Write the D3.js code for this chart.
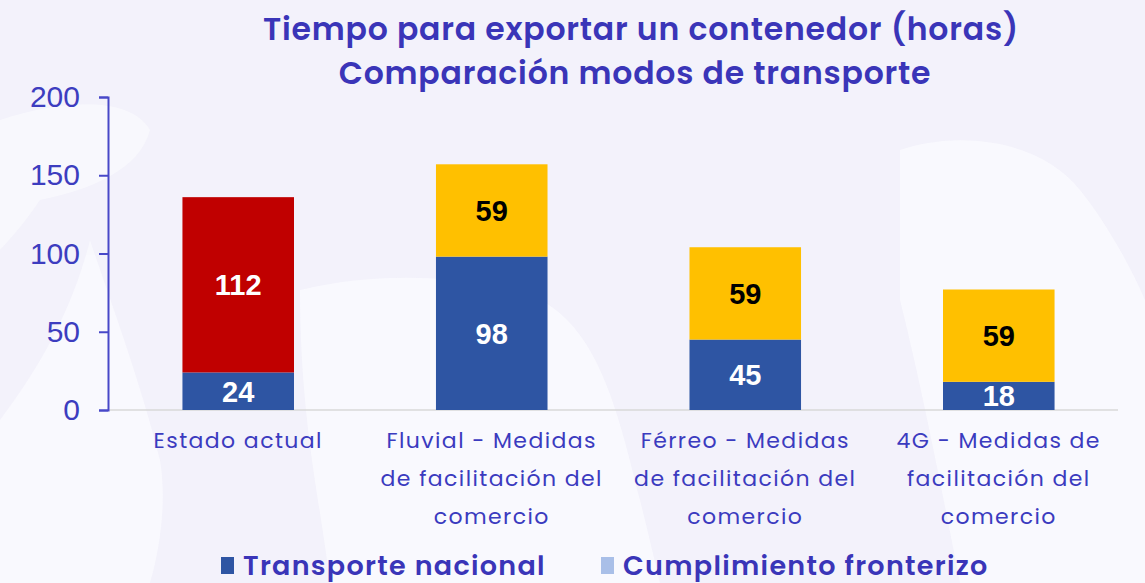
<!DOCTYPE html>
<html>
<head>
<meta charset="utf-8">
<script src="https://cdn.jsdelivr.net/npm/d3@7"></script>
<style>
  body { margin: 0; background: #f4f3fb; }
  svg { display: block; }
</style>
</head>
<body>
<div id="chart"></div>
<script>
// data
var categories = ["Estado actual", "Fluvial - Medidas de facilitación del comercio",
  "Férreo - Medidas de facilitación del comercio", "4G - Medidas de facilitación del comercio"];
var tickLines = [
  ["Estado actual"],
  ["Fluvial - Medidas", "de facilitación del", "comercio"],
  ["Férreo - Medidas", "de facilitación del", "comercio"],
  ["4G - Medidas de", "facilitación del", "comercio"]
];
var transporteNacional = [24, 98, 45, 18];
var cumplimientoFronterizo = [112, 59, 59, 59];
var fronterizoColors = ["#c00000", "#ffc000", "#ffc000", "#ffc000"];
var fronterizoLabelColors = ["#ffffff", "#000000", "#000000", "#000000"];
var yTicks = [0, 50, 100, 150, 200];
var seriesNames = ["Transporte nacional", "Cumplimiento fronterizo"];
var seriesColors = ["#2e55a3", "#a9bfe8"];

var W = 1145, H = 583;
var margin = {top: 97, right: 23, bottom: 173, left: 108};
var width = W - margin.left - margin.right,
    height = H - margin.top - margin.bottom;

var svg = d3.select("#chart").append("svg")
    .attr("width", W)
    .attr("height", H);

// faint background shapes
svg.append("rect").attr("width", W).attr("height", H).attr("fill", "#f3f2fb");
var bg = svg.append("g").attr("fill", "#f9f9fe").attr("opacity", 0.9);
bg.append("path").attr("d", "M0,120 C60,100 130,95 150,130 C140,170 90,190 40,200 C20,230 0,250 0,250 Z");
bg.append("path").attr("d", "M90,240 C110,300 140,380 160,460 C170,520 150,583 150,583 L0,583 L0,420 C30,380 70,320 90,240 Z");
bg.append("path").attr("d", "M300,290 C380,270 480,275 540,300 C600,330 620,420 640,500 C650,540 660,583 660,583 L330,583 C320,500 300,420 300,290 Z");
bg.append("path").attr("d", "M900,150 C960,130 1040,140 1080,190 C1120,240 1145,300 1145,300 L1145,583 L960,583 C940,480 920,380 900,300 Z");

var g = svg.append("g")
    .attr("transform", "translate(" + margin.left + "," + margin.top + ")");

// title
var title = svg.append("text")
    .attr("text-anchor", "middle")
    .attr("font-family", "Poppins, Inter, sans-serif")
    .attr("font-weight", 600)
    .attr("font-size", 31.5)
    .attr("letter-spacing", 0.8)
    .attr("fill", "#3a35b8");
title.append("tspan").attr("x", 641).attr("y", 40).text("Tiempo para exportar un contenedor (horas)");
title.append("tspan").attr("x", 635).attr("y", 84).text("Comparación modos de transporte");

var x = d3.scaleBand()
    .domain(categories)
    .range([6, width + 1])
    .paddingInner(0.56)
    .paddingOuter(0.27);

var y = d3.scaleLinear()
    .domain([0, 200])
    .range([height, 0]);

// baseline
g.append("line")
    .attr("x1", 0).attr("x2", width - 4)
    .attr("y1", y(0)).attr("y2", y(0))
    .attr("stroke", "#d9d9d9")
    .attr("stroke-width", 1.5);

// y axis
var yAxis = g.append("g")
    .call(d3.axisLeft(y).tickValues(yTicks).tickSize(9).tickPadding(19));
yAxis.select(".domain").attr("stroke", "#4848c8").attr("stroke-width", 2);
yAxis.selectAll(".tick line").attr("stroke", "#4848c8").attr("stroke-width", 2);
yAxis.selectAll(".tick text")
    .attr("fill", "#3d3dbf")
    .attr("font-family", "Liberation Sans, Arial, sans-serif")
    .attr("font-size", 30);

// stacked bars
var rows = categories.map(function(c, i) {
  return {cat: c, i: i, a: transporteNacional[i], b: cumplimientoFronterizo[i]};
});

var bars = g.selectAll(".bar").data(rows).enter().append("g").attr("class", "bar");

bars.append("rect")
    .attr("x", function(d) { return x(d.cat); })
    .attr("width", x.bandwidth())
    .attr("y", function(d) { return y(d.a); })
    .attr("height", function(d) { return y(0) - y(d.a); })
    .attr("fill", seriesColors[0]);

bars.append("rect")
    .attr("x", function(d) { return x(d.cat); })
    .attr("width", x.bandwidth())
    .attr("y", function(d) { return y(d.a + d.b); })
    .attr("height", function(d) { return y(d.a) - y(d.a + d.b); })
    .attr("fill", function(d) { return fronterizoColors[d.i]; });

var labelFont = "Liberation Sans, Arial, sans-serif";

bars.append("text")
    .attr("x", function(d) { return x(d.cat) + x.bandwidth() / 2; })
    .attr("y", function(d) { return (y(0) + y(d.a)) / 2; })
    .attr("dy", "0.36em")
    .attr("text-anchor", "middle")
    .attr("font-family", labelFont)
    .attr("font-weight", "bold")
    .attr("font-size", 29)
    .attr("fill", "#ffffff")
    .text(function(d) { return d.a; });

bars.append("text")
    .attr("x", function(d) { return x(d.cat) + x.bandwidth() / 2; })
    .attr("y", function(d) { return (y(d.a) + y(d.a + d.b)) / 2; })
    .attr("dy", "0.36em")
    .attr("text-anchor", "middle")
    .attr("font-family", labelFont)
    .attr("font-weight", "bold")
    .attr("font-size", 29)
    .attr("fill", function(d) { return fronterizoLabelColors[d.i]; })
    .text(function(d) { return d.b; });

// category labels
var catLabels = g.selectAll(".cat").data(rows).enter().append("text")
    .attr("class", "cat")
    .attr("text-anchor", "middle")
    .attr("font-family", "Poppins, Inter, sans-serif")
    .attr("font-size", 22)
    .attr("letter-spacing", 1.4)
    .attr("fill", "#3b3bbf");
catLabels.each(function(d) {
  var t = d3.select(this);
  tickLines[d.i].forEach(function(line, k) {
    t.append("tspan")
      .attr("x", x(d.cat) + x.bandwidth() / 2)
      .attr("y", y(0) + 38 + k * 38)
      .text(line);
  });
});

// legend
var legend = svg.append("g").attr("transform", "translate(0,566)");
var legendX = [221, 601];
seriesNames.forEach(function(name, i) {
  legend.append("rect")
      .attr("x", legendX[i]).attr("y", -9)
      .attr("width", 13).attr("height", 17)
      .attr("fill", seriesColors[i]);
  legend.append("text")
      .attr("x", legendX[i] + 22)
      .attr("y", 0)
      .attr("dy", "0.34em")
      .attr("font-family", "Poppins, Inter, sans-serif")
      .attr("font-weight", 600)
      .attr("font-size", 27)
      .attr("letter-spacing", 1.3)
      .attr("fill", "#3a35b8")
      .text(name);
});
</script>
</body>
</html>
